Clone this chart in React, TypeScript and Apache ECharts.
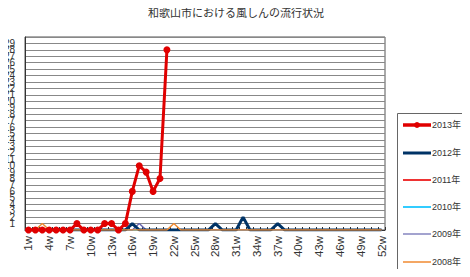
import React, { useEffect, useRef } from "react";
import * as echarts from "echarts";

const weeks: string[] = Array.from({ length: 52 }, (_, i) => `${i + 1}w`);
const yTicks: number[] = [0, 30, 1];

const s2013: (number | null)[] = [0, 0, 0, 0, 0, 0, 0, 1, 0, 0, 0, 1, 1, 0, 1, 6, 10, 9, 6, 8, 28];
const s2012: number[] = [
  0, 0, 0, 0, 0, 0, 0, 0, 0, 0, 0, 0, 0, 0, 0, 1, 0, 0, 0, 0, 0, 0, 0, 0, 0, 0,
  0, 1, 0, 0, 0, 2, 0, 0, 0, 0, 1, 0, 0, 0, 0, 0, 0, 0, 0, 0, 0, 0, 0, 0, 0, 0,
];
const s2011: number[] = [
  0, 0, 0, 0, 0, 0, 0, 0, 0, 0, 0, 0, 0, 0, 0, 0, 0, 0, 0, 0, 0, 0, 0, 0, 0, 0,
  0, 0, 0, 0, 0, 0, 0, 0, 0, 0, 0, 0, 0, 0, 0, 0, 0, 0, 0, 0, 0, 0, 0, 0, 0, 0,
];
const s2010: number[] = [
  0, 0, 0, 0, 0, 0, 0, 0, 0, 0, 0, 0, 0, 0, 0, 0, 0, 0, 0, 0, 0, 0, 0, 0, 0, 0,
  0, 0, 0, 0, 0, 0, 0, 0, 0, 0, 0, 0, 0, 0, 0, 0, 0, 0, 0, 0, 0, 0, 0, 0, 0, 0,
];
const s2009: number[] = [
  0, 0, 0, 0, 0, 0, 0, 0, 0, 0, 0, 0, 0, 0, 0, 0, 1, 0, 0, 0, 0, 0, 0, 0, 0, 0,
  0, 0, 0, 0, 0, 0, 0, 0, 0, 0, 0, 0, 0, 0, 0, 0, 0, 0, 0, 0, 0, 0, 0, 0, 0, 0,
];
const s2008: number[] = [
  0, 0, 1, 0, 0, 0, 0, 0, 0, 0, 0, 0, 0, 0, 0, 0, 0, 0, 0, 0, 0, 1, 0, 0, 0, 0,
  0, 0, 0, 0, 0, 0, 0, 0, 0, 0, 0, 0, 0, 0, 0, 0, 0, 0, 0, 0, 0, 0, 0, 0, 0, 0,
];

const legendNames: string[] = ["2013年", "2012年", "2011年", "2010年", "2009年", "2008年"];
const legendColors: string[] = ["#e00000", "#003366", "#ee3333", "#33ccff", "#6666b0", "#f08a30"];
const legendWidths: number[] = [3.5, 3, 2, 2, 1.2, 1.5];

const FONT = "'Liberation Sans', Arial, 'Noto Sans CJK JP', sans-serif";

export default function App() {
  const ref = useRef<HTMLDivElement>(null);
  useEffect(() => {
    if (!ref.current) return;
    const chart = echarts.init(ref.current, undefined, { renderer: "svg" });
    const thin = (name: string, data: (number | null)[], color: string, width: number, z: number) => ({
      name,
      type: "line",
      data,
      symbol: "none",
      showSymbol: false,
      z,
      lineStyle: { color, width },
      itemStyle: { color },
    });

    const legendEls: any[] = [
      {
        type: "rect",
        shape: { x: 397.5, y: 113.5, width: 69, height: 161 },
        style: { fill: "#fff", stroke: "#666", lineWidth: 1 },
      },
    ];
    const ys = [125, 153, 180, 207, 234, 262];
    legendNames.forEach((n, i) => {
      legendEls.push({
        type: "line",
        shape: { x1: 403, y1: ys[i], x2: 431, y2: ys[i] },
        style: { stroke: legendColors[i], lineWidth: legendWidths[i] },
      });
      if (i === 0) {
        legendEls.push({
          type: "circle",
          shape: { cx: 417, cy: ys[i], r: 3 },
          style: { fill: legendColors[i] },
        });
      }
      legendEls.push({
        type: "text",
        x: 432,
        y: ys[i],
        style: {
          text: n,
          fontSize: 9,
          fill: "#333",
          fontFamily: FONT,
          verticalAlign: "middle",
          align: "left",
        },
      });
    });

    chart.setOption({
      animation: false,
      title: {
        text: "和歌山市における風しんの流行状況",
        left: 231,
        textAlign: "center",
        top: 2,
        textStyle: { fontSize: 11, fontWeight: "normal", color: "#333", fontFamily: FONT },
      },
      graphic: legendEls,
      grid: { left: 25, top: 37, right: 85, bottom: 47, show: true, borderColor: "#555", borderWidth: 1 },
      xAxis: {
        type: "category",
        data: weeks,
        boundaryGap: true,
        axisLine: { lineStyle: { color: "#333" } },
        axisTick: { show: true, inside: true, length: 3, interval: 0, lineStyle: { color: "#333" } },
        axisLabel: { rotate: 90, interval: 2, fontSize: 11.5, color: "#333", margin: 6, fontFamily: FONT },
        splitLine: { show: false },
      },
      yAxis: {
        type: "value",
        min: yTicks[0],
        max: yTicks[1],
        interval: yTicks[2],
        axisLine: { show: true, lineStyle: { color: "#333" } },
        axisTick: { show: false },
        axisLabel: { fontSize: 10, color: "#333", margin: 10, fontFamily: FONT },
        splitLine: { show: true, lineStyle: { color: "#888", width: 1 } },
      },
      series: [
        thin("2011年", s2011, "#ee3333", 2, 2),
        thin("2010年", s2010, "#33ccff", 2, 2),
        thin("2009年", s2009, "#6666b0", 1.5, 3),
        thin("2012年", s2012, "#003366", 3, 4),
        thin("2008年", s2008, "#f08a30", 1.5, 5),
        {
          name: "2013年",
          type: "line",
          data: s2013,
          symbol: "circle",
          symbolSize: 7,
          showSymbol: true,
          showAllSymbol: true,
          z: 6,
          lineStyle: { color: "#e00000", width: 3 },
          itemStyle: { color: "#e00000" },
        },
      ],
    });
    return () => chart.dispose();
  }, []);
  return <div ref={ref} style={{ width: 470, height: 277, margin: -8 }} />;
}
